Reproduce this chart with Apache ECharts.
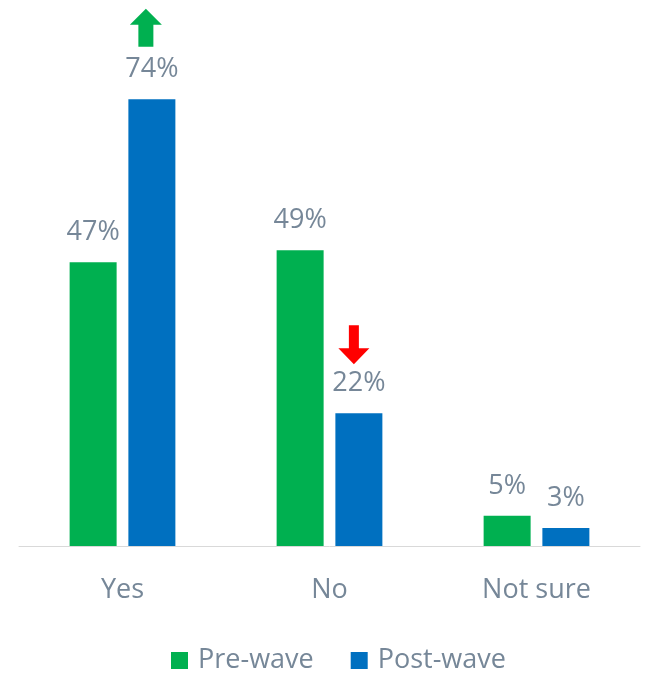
<!DOCTYPE html>
<html>
<head>
<meta charset="utf-8">
<style>
  html, body { margin: 0; padding: 0; background: #ffffff; }
  #chart { width: 645px; height: 679px; }
</style>
<script src="https://cdn.jsdelivr.net/npm/echarts@6/dist/echarts.min.js"></script>
</head>
<body>
<div id="chart"></div>
<script>
// Survey answers before and after the wave
const categories = ['Yes', 'No', 'Not sure'];
const preWave = [47, 49, 5];
const postWave = [74, 22, 3];
const seriesNames = ['Pre-wave', 'Post-wave'];

const GREEN = '#00B050';
const BLUE = '#0070C0';
const TEXT = '#768798';
const FONT = '"Open Sans", "Noto Sans", sans-serif';

// Arrow glyphs marking the direction of change
const upArrow = 'path://M16 0 L32 16 L23.5 16 L23.5 38 L8.5 38 L8.5 16 L0 16 Z';
const downArrow = 'path://M10.5 0 L20.5 0 L20.5 23 L31 23 L15.5 39 L0 23 L10.5 23 Z';

const chart = echarts.init(document.getElementById('chart'), null, { renderer: 'canvas' });

const labelStyle = {
  show: true,
  position: 'top',
  distance: 16,
  color: TEXT,
  fontSize: 27,
  fontFamily: FONT,
  formatter: p => p.value + '%'
};

chart.setOption({
  animation: false,
  backgroundColor: '#ffffff',
  grid: { left: 19, right: 5, top: 63, bottom: 133, containLabel: false },
  legend: {
    data: seriesNames,
    left: 171,
    top: 647,
    padding: 0,
    icon: 'rect',
    itemWidth: 17,
    itemHeight: 17,
    itemGap: 37,
    textStyle: { color: TEXT, fontSize: 27, fontFamily: FONT, padding: [0, 0, 0, 5] }
  },
  xAxis: {
    type: 'category',
    data: categories,
    axisLine: { show: true, lineStyle: { color: '#D9D9D9', width: 1 } },
    axisTick: { show: false },
    axisLabel: { color: TEXT, fontSize: 27, fontFamily: FONT, margin: 31 }
  },
  yAxis: {
    type: 'value',
    min: 0,
    max: 80,
    show: false,
    splitLine: { show: false }
  },
  series: [
    {
      name: seriesNames[0],
      type: 'bar',
      data: preWave,
      barWidth: 47,
      barGap: '25%',
      itemStyle: { color: GREEN },
      label: labelStyle
    },
    {
      name: seriesNames[1],
      type: 'bar',
      data: postWave,
      barWidth: 47,
      barGap: '25%',
      itemStyle: { color: BLUE },
      label: labelStyle,
      markPoint: {
        silent: true,
        label: { show: false },
        data: [
          {
            coord: [categories[0], postWave[0]],
            symbol: upArrow,
            symbolSize: [32, 38],
            symbolOffset: [-6, -71.5],
            itemStyle: { color: GREEN }
          },
          {
            coord: [categories[1], postWave[1]],
            symbol: downArrow,
            symbolSize: [31, 39],
            symbolOffset: [-5, -68.5],
            itemStyle: { color: '#FF0000' }
          }
        ]
      }
    }
  ]
});
</script>
</body>
</html>
